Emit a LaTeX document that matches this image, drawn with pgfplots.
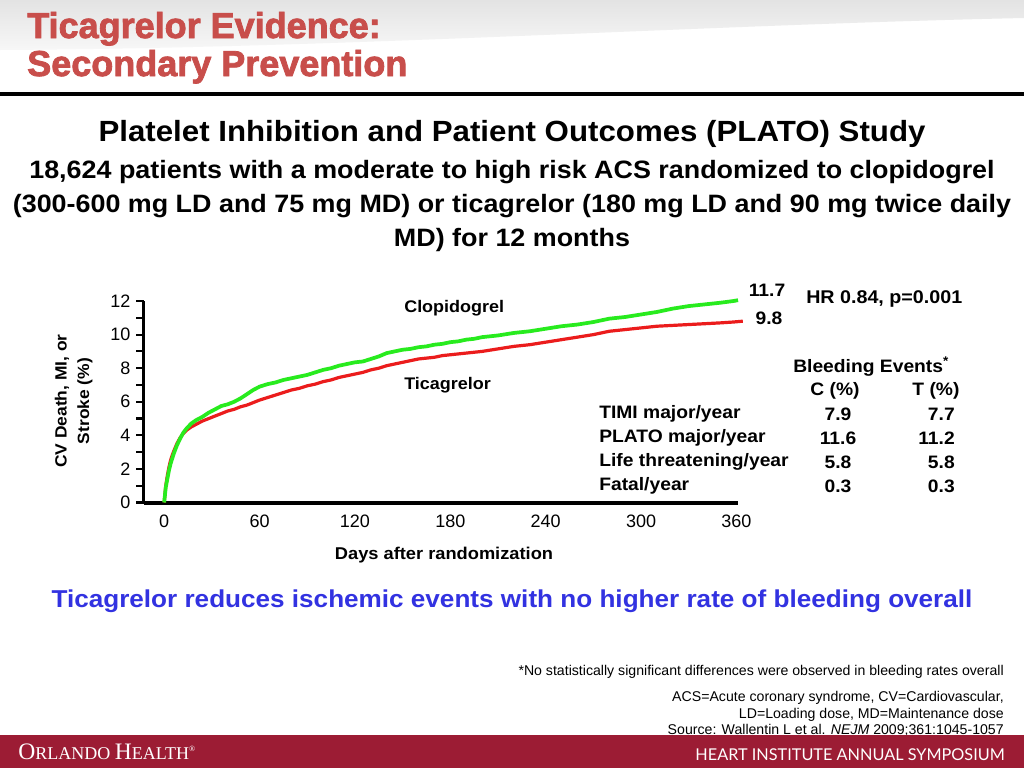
\documentclass[border=0pt]{standalone}
\usepackage{fontspec}
\setmainfont{Liberation Sans}
\newfontfamily\heavy[BoldFeatures={FakeBold=2.2}]{Liberation Sans}
\newfontfamily\wide[FakeStretch=1.07]{Liberation Sans}
\newfontfamily\serifrm{Liberation Serif}
\newfontfamily\lato{Lato}
\usepackage{pgfplots}
\usepackage{pgfplotstable}
\pgfplotsset{compat=1.18}
\definecolor{titlered}{RGB}{200,78,75}
\definecolor{footred}{RGB}{156,28,52}
\definecolor{msgblue}{RGB}{50,50,225}
\definecolor{clopi}{RGB}{40,235,30}
\definecolor{tica}{RGB}{235,28,28}
\newcommand\fs[1]{\fontsize{#1}{#1}\selectfont}

\pgfplotstableread{
day val
0 0
1 0.9
2 1.4
3 1.9
4 2.3
5 2.6
6 2.9
8 3.4
10 3.8
12 4.15
14 4.4
17 4.7
20 4.9
24 5.1
28 5.35
32 5.55
36 5.75
40 5.85
44 6.0
48 6.2
52 6.45
56 6.7
60 6.9
65 7.05
70 7.15
75 7.3
80 7.4
85 7.5
90 7.6
95 7.75
100 7.9
105 8.0
110 8.15
115 8.25
120 8.35
125 8.4
130 8.55
135 8.7
140 8.9
145 9.0
150 9.1
155 9.15
160 9.25
165 9.3
170 9.4
175 9.45
180 9.55
185 9.6
190 9.7
195 9.75
200 9.85
210 9.95
220 10.1
230 10.2
240 10.35
250 10.5
260 10.6
270 10.75
280 10.95
290 11.05
300 11.2
310 11.35
320 11.55
330 11.7
340 11.8
350 11.9
358 12.0
361 12.05
}\clopitab

\pgfplotstableread{
day val
0 0
1 1.0
2 1.6
3 2.1
4 2.5
5 2.8
6 3.05
8 3.5
10 3.85
12 4.1
14 4.3
17 4.5
20 4.65
24 4.85
28 5.0
32 5.15
36 5.3
40 5.45
44 5.55
48 5.7
52 5.8
56 5.95
60 6.1
65 6.25
70 6.4
75 6.55
80 6.7
85 6.8
90 6.95
95 7.05
100 7.2
105 7.3
110 7.45
115 7.55
120 7.65
125 7.75
130 7.9
135 8.0
140 8.15
145 8.25
150 8.35
155 8.45
160 8.55
165 8.6
170 8.65
175 8.75
180 8.8
190 8.9
200 9.0
210 9.15
220 9.3
230 9.4
240 9.55
250 9.7
260 9.85
270 10.0
280 10.2
290 10.3
300 10.4
310 10.5
320 10.55
330 10.6
340 10.65
350 10.7
358 10.75
364 10.8
}\ticatab

\begin{document}
\begin{tikzpicture}[x=0.75pt,y=-0.75pt]
\path[use as bounding box] (0,0) rectangle (1024,768);
\fill[white] (0,0) rectangle (1024,768);
% header background
\shade[top color=gray!22, bottom color=gray!6] (0,0) -- (1024,0) -- (1024,18) .. controls (700,25) and (350,48) .. (0,50) -- cycle;
% header title
\node[anchor=base west, inner sep=0, text=titlered, font=\heavy\bfseries\fs{27}] at (27,38) {Ticagrelor Evidence:};
\node[anchor=base west, inner sep=0, text=titlered, font=\heavy\bfseries\fs{27}] at (27,76) {Secondary Prevention};
\draw[line width=3pt] (0,94) -- (1024,94);
% headings
\node[anchor=base, inner sep=0, font=\wide\bfseries\fs{21.9}] at (512,141) {Platelet Inhibition and Patient Outcomes (PLATO) Study};
\node[anchor=base, inner sep=0, font=\wide\bfseries\fs{18.85}] at (512,178) {18,624 patients with a moderate to high risk ACS randomized to clopidogrel};
\node[anchor=base, inner sep=0, font=\wide\bfseries\fs{18.85}] at (512,212) {(300-600 mg LD and 75 mg MD) or ticagrelor (180 mg LD and 90 mg twice daily};
\node[anchor=base, inner sep=0, font=\wide\bfseries\fs{18.85}] at (512,246) {MD) for 12 months};

% axis
\coordinate (axo) at (143.5,502.5);
\begin{axis}[
  at={(axo)}, anchor=south west,
  scale only axis, width=445.9pt, height=151.1pt,
  xmin=-13, xmax=361, ymin=0, ymax=12,
  axis x line=bottom, axis y line=left,
  axis line style={-},
  x axis line style={line width=3pt},
  y axis line style={line width=2.4pt},
  xtick={0,60,...,360}, xtick style={draw=none},
  ytick={0,2,...,12}, minor ytick={1,3,...,11},
  tick align=outside,
  major tick length=5.5pt, minor tick length=5.5pt,
  ytick style={line width=1.6pt, black},
  minor tick style={line width=1.6pt, black},
  tick label style={font=\fs{13.5}},
  yticklabel style={xshift=-0.8pt},
  /pgf/number format/assume math mode=true,
  clip=false,
]
\addplot[no markers, draw=tica, line width=2.4pt, line join=round] table[x=day,y=val] {\ticatab};
\addplot[no markers, draw=clopi, line width=2.8pt, line join=round] table[x=day,y=val] {\clopitab};
\end{axis}

% axis labels
\node[rotate=90, inner sep=0, font=\wide\bfseries\fs{12.2}] at (62,401) {CV Death, MI, or};
\node[rotate=90, inner sep=0, font=\wide\bfseries\fs{12.2}] at (85,401) {Stroke (\%)};
\node[inner sep=0, font=\wide\bfseries\fs{12.8}] at (444,555) {Days after randomization};
\node[anchor=west, inner sep=0, font=\wide\bfseries\fs{12.6}] at (404,308) {Clopidogrel};
\node[anchor=west, inner sep=0, font=\wide\bfseries\fs{12.6}] at (404,385) {Ticagrelor};
\node[inner sep=0, font=\wide\bfseries\fs{13.5}] at (767,290) {11.7};
\node[inner sep=0, font=\wide\bfseries\fs{13.5}] at (769,318) {9.8};
\node[anchor=west, inner sep=0, font=\wide\bfseries\fs{13.8}] at (806,299) {HR 0.84, p=0.001};

% bleeding table
\node[anchor=west, inner sep=0, font=\wide\bfseries\fs{13.5}] at (793,367) {Bleeding Events\textsuperscript{*}};
\node[inner sep=0, font=\wide\bfseries\fs{13.5}] at (835,391) {C (\%)};
\node[inner sep=0, font=\wide\bfseries\fs{13.5}] at (936,391) {T (\%)};
\foreach \lab/\c/\t/\yy in {{TIMI major/year}/7.9/7.7/414, {PLATO major/year}/11.6/11.2/438, {Life threatening/year}/5.8/5.8/462, {Fatal/year}/0.3/0.3/486}{
  \node[anchor=west, inner sep=0, font=\wide\bfseries\fs{13.5}] at (599,\yy) {\lab};
  \node[inner sep=0, font=\wide\bfseries\fs{13.5}] at (838,\yy) {\c};
  \node[anchor=east, inner sep=0, font=\wide\bfseries\fs{13.5}] at (955,\yy) {\t};
}

% message
\node[inner sep=0, text=msgblue, font=\wide\bfseries\fs{18.3}] at (512,601) {Ticagrelor reduces ischemic events with no higher rate of bleeding overall};

% footnotes
\node[anchor=base east, inner sep=0, font=\fs{10.6}] at (1004,675) {*No statistically significant differences were observed in bleeding rates overall};
\node[anchor=base east, inner sep=0, font=\fs{10.6}] at (1004,701) {ACS=Acute coronary syndrome, CV=Cardiovascular,};
\node[anchor=base east, inner sep=0, font=\fs{10.6}] at (1004,718) {LD=Loading dose, MD=Maintenance dose};
\node[anchor=base east, inner sep=0, font=\fs{10.6}] at (1004,734) {Source: Wallentin L et al. \textit{NEJM} 2009;361:1045-1057};

% footer
\fill[footred] (0,735) rectangle (1024,768);
\node[anchor=base west, inner sep=0, text=white, font=\serifrm] at (18,759) {\fs{17.7}O\fs{13.5}RLANDO \fs{17.7}H\fs{13.5}EALTH\raisebox{6pt}{\fs{6}®}};
\node[anchor=base east, inner sep=0, text=white, font=\lato\fs{12.2}] at (1005,760) {HEART INSTITUTE ANNUAL SYMPOSIUM};
\end{tikzpicture}
\end{document}
